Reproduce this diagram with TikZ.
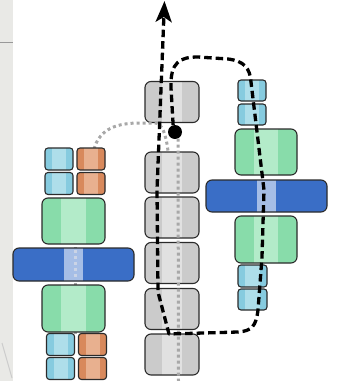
\documentclass[tikz,border=0pt]{standalone}
\usetikzlibrary{arrows.meta,calc}
\definecolor{grayA}{HTML}{CBCBCB}
\definecolor{grayL}{HTML}{D3D3D3}
\definecolor{grayB}{HTML}{E1E1E1}
\definecolor{greenA}{HTML}{88DCAA}
\definecolor{greenB}{HTML}{B3EBC9}
\definecolor{cyanA}{HTML}{86CBDF}
\definecolor{cyanB}{HTML}{AEDEEA}
\definecolor{orA}{HTML}{D8895C}
\definecolor{orB}{HTML}{E8B08F}
\definecolor{blueA}{HTML}{3A6EC6}
\definecolor{blueB}{HTML}{A6BEE6}
\definecolor{edgec}{HTML}{2B2B2B}
\definecolor{dotc}{HTML}{A8A8A8}
\definecolor{dotlight}{HTML}{CBD4E6}
\definecolor{paper}{HTML}{E9E9E6}
\tikzset{
  blk/.style n args={5}{draw=edgec, line width=1.1pt, rounded corners=#5, inner sep=0pt, fill=#1,
    path picture={\fill[#2, sharp corners] ($(path picture bounding box.south west)!#3!(path picture bounding box.south east)$) rectangle ($(path picture bounding box.north west)!#4!(path picture bounding box.north east)$);}},
  graybox/.style={blk={grayA}{grayB}{0.32}{0.68}{6pt}, minimum width=54pt, minimum height=41pt,
    append after command={}},
  greenbox/.style={blk={greenA}{greenB}{0.3}{0.7}{6pt}, minimum width=62pt, minimum height=46pt},
  bluebox/.style={blk={blueA}{blueB}{0.42}{0.58}{6pt}, minimum width=121pt, minimum height=33pt},
  cyanbox/.style={blk={cyanA}{cyanB}{0.25}{0.75}{3pt}, minimum width=28pt, minimum height=22pt},
  orbox/.style={blk={orA}{orB}{0.25}{0.75}{3pt}, minimum width=28pt, minimum height=22pt},
  dotline/.style={draw=dotc, line width=3pt, dash pattern=on 3pt off 3pt},
  dashline/.style={draw=black, line width=3.3pt, dash pattern=on 7.5pt off 4pt, line join=round},
}
\begin{document}
\begin{tikzpicture}[x=1pt,y=-1pt]
\useasboundingbox (0,0) rectangle (337,381);
% paper edge
\fill[paper] (0,0) rectangle (13,381);
\draw[gray!80, line width=1pt] (0,42) -- (13,42);
\draw[gray!40, line width=1pt] (2,343) -- (12,378);
% middle column
\node[graybox] (g1) at (172,102) {};
\node[graybox] (g2) at (172,172.5) {};
\node[graybox] (g3) at (172,217.5) {};
\node[graybox] (g4) at (172,263) {};
\node[graybox] (g5) at (172,309) {};
\node[graybox] (g6) at (172,354.5) {};
\node[circle, fill=black, minimum size=14pt, inner sep=0pt] (dot) at (175,132) {};
% dotted lines
\coordinate (lstart) at (75.5,334);
\coordinate (ltop) at (75.5,200);
\coordinate (arcstart) at (94,149);
\coordinate (dotend) at (178.5,381);
\draw[dotline] (lstart) -- (ltop);
\draw[dotline] (arcstart) .. controls (100,128) and (118,123) .. (140,123) -- (156,123) .. controls (162,124) and (166,134) .. (168,151);
\draw[dotline] (dot.-65) -- (dotend);
% left column
\node[cyanbox] (lc1) at (59,159) {};
\node[orbox] (lo1) at (91,159) {};
\node[cyanbox] (lc2) at (59,183.5) {};
\node[orbox] (lo2) at (91,183.5) {};
\node[greenbox, minimum width=63pt] (lg1) at (73.5,221) {};
\node[bluebox] (lb) at (73.5,264.5) {};
\node[greenbox, minimum width=63pt, minimum height=47pt] (lg2) at (73.5,308.5) {};
\node[cyanbox] (lc3) at (60.5,344.5) {};
\node[orbox] (lo3) at (92.5,344.5) {};
\node[cyanbox] (lc4) at (60.5,368.5) {};
\node[orbox] (lo4) at (92.5,368.5) {};
\draw[dotline, draw=dotlight] (lb.north) ++(2,3) -- ($(lb.south)+(2,-3)$);
% right column
\node[cyanbox, minimum height=21pt] (rc1) at (252,90.5) {};
\node[cyanbox, minimum height=21pt] (rc2) at (252,114.5) {};
\node[greenbox] (rg1) at (266,152) {};
\node[bluebox, minimum height=32pt] (rb) at (266.5,196) {};
\node[greenbox, minimum height=47pt] (rg2) at (266,239.5) {};
\node[cyanbox, minimum width=29pt] (rc3) at (252.5,276) {};
\node[cyanbox, minimum width=29pt, minimum height=21pt] (rc4) at (252.5,299.5) {};
% dashed path with arrow
\coordinate (tip) at (164.5,1);
\draw[dashline, -{Stealth[length=21pt, width=16pt, inset=5pt]}]
  (dot.105) -- (171,88) .. controls (170,62) and (180,57) .. (198,57)
  -- (228,59) .. controls (244,61) and (250,68) .. (251,82)
  -- (264,190) -- (262,257) -- (258,310)
  .. controls (256,326) and (252,331) .. (238,332)
  -- (169,334) -- (158,292) -- (157,190) -- (tip);
\end{tikzpicture}
\end{document}
